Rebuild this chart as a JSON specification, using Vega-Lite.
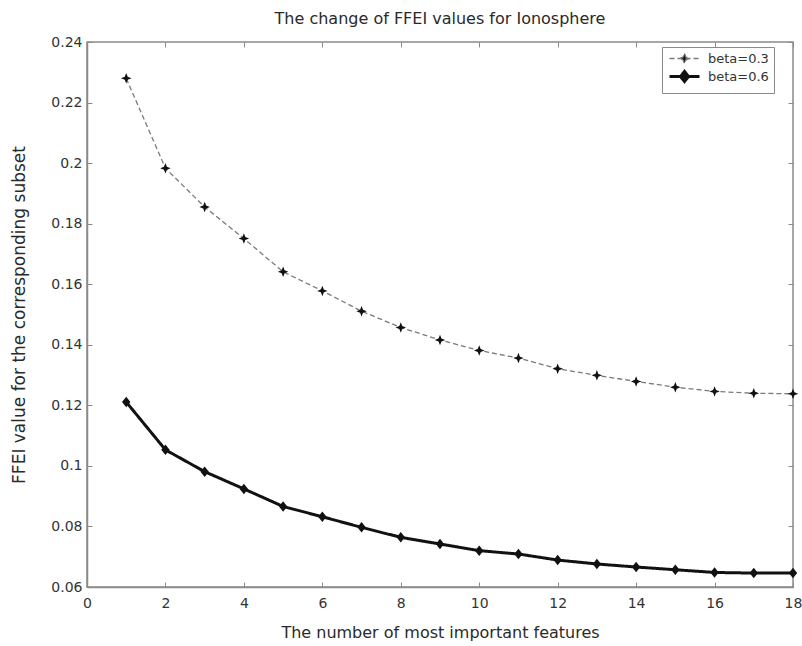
{
  "$schema": "https://vega.github.io/schema/vega-lite/v6.json",
  "width": 706,
  "height": 545,
  "autosize": {"type": "none"},
  "padding": {"left": 87, "top": 42, "right": 9, "bottom": 59},
  "background": "white",
  "title": {"text": "The change of FFEI values for Ionosphere", "font": "DejaVu Sans", "fontSize": 16, "fontWeight": "normal", "color": "#2a2a2a", "offset": 8, "anchor": "middle"},
  "config": {
    "view": {"stroke": "#8a8a8a", "strokeWidth": 1.5},
    "axis": {"domainColor": "#8a8a8a", "domainWidth": 1.5, "tickColor": "#8a8a8a", "grid": false, "labelFont": "DejaVu Sans", "labelFontSize": 14, "labelColor": "#333", "titleFont": "DejaVu Sans", "titleFontSize": 16, "titleFontWeight": "normal", "titleColor": "#2a2a2a"}
  },
  "data": {"values": [
    {"n": 1, "v": 0.228, "s": "beta=0.3"},
    {"n": 2, "v": 0.1983, "s": "beta=0.3"},
    {"n": 3, "v": 0.1855, "s": "beta=0.3"},
    {"n": 4, "v": 0.1751, "s": "beta=0.3"},
    {"n": 5, "v": 0.1641, "s": "beta=0.3"},
    {"n": 6, "v": 0.1578, "s": "beta=0.3"},
    {"n": 7, "v": 0.1511, "s": "beta=0.3"},
    {"n": 8, "v": 0.1457, "s": "beta=0.3"},
    {"n": 9, "v": 0.1416, "s": "beta=0.3"},
    {"n": 10, "v": 0.1381, "s": "beta=0.3"},
    {"n": 11, "v": 0.1356, "s": "beta=0.3"},
    {"n": 12, "v": 0.1321, "s": "beta=0.3"},
    {"n": 13, "v": 0.1299, "s": "beta=0.3"},
    {"n": 14, "v": 0.1279, "s": "beta=0.3"},
    {"n": 15, "v": 0.126, "s": "beta=0.3"},
    {"n": 16, "v": 0.1246, "s": "beta=0.3"},
    {"n": 17, "v": 0.124, "s": "beta=0.3"},
    {"n": 18, "v": 0.1238, "s": "beta=0.3"},
    {"n": 1, "v": 0.1211, "s": "beta=0.6"},
    {"n": 2, "v": 0.1053, "s": "beta=0.6"},
    {"n": 3, "v": 0.0981, "s": "beta=0.6"},
    {"n": 4, "v": 0.0924, "s": "beta=0.6"},
    {"n": 5, "v": 0.0866, "s": "beta=0.6"},
    {"n": 6, "v": 0.0832, "s": "beta=0.6"},
    {"n": 7, "v": 0.0797, "s": "beta=0.6"},
    {"n": 8, "v": 0.0764, "s": "beta=0.6"},
    {"n": 9, "v": 0.0742, "s": "beta=0.6"},
    {"n": 10, "v": 0.072, "s": "beta=0.6"},
    {"n": 11, "v": 0.0709, "s": "beta=0.6"},
    {"n": 12, "v": 0.0689, "s": "beta=0.6"},
    {"n": 13, "v": 0.0676, "s": "beta=0.6"},
    {"n": 14, "v": 0.0666, "s": "beta=0.6"},
    {"n": 15, "v": 0.0657, "s": "beta=0.6"},
    {"n": 16, "v": 0.0648, "s": "beta=0.6"},
    {"n": 17, "v": 0.0646, "s": "beta=0.6"},
    {"n": 18, "v": 0.0646, "s": "beta=0.6"}
  ]},
  "resolve": {"axis": {"x": "independent", "y": "independent"}},
  "layer": [
    {
      "mark": {"type": "line"},
      "encoding": {
        "x": {"field": "n", "type": "quantitative", "scale": {"domain": [0, 18], "nice": false, "zero": false},
          "axis": {"orient": "bottom", "title": "The  number of most important features", "values": [0,2,4,6,8,10,12,14,16,18], "tickSize": -5, "labelPadding": 14, "titlePadding": 14, "labelFlush": false}},
        "y": {"field": "v", "type": "quantitative", "scale": {"domain": [0.06, 0.24], "nice": false, "zero": false},
          "axis": {"orient": "left", "title": "FFEI value for the corresponding subset", "titleFontSize": 17, "values": [0.06,0.08,0.1,0.12,0.14,0.16,0.18,0.2,0.22,0.24], "tickSize": -5, "labelPadding": 10, "titlePadding": 22, "labelExpr": "datum.value == 0.1 ? '0.1' : (datum.value == 0.2 ? '0.2' : format(datum.value, '.2f'))"}},
        "color": {"field": "s", "type": "nominal", "scale": {"domain": ["beta=0.3", "beta=0.6"], "range": ["#7a7a7a", "#111111"]},
          "legend": {"title": null, "orient": "none", "legendX": 575, "legendY": 5, "padding": 5, "strokeColor": "#8a8a8a", "fillColor": "white", "labelFont": "DejaVu Sans", "labelFontSize": 13, "labelColor": "#333", "symbolSize": 100, "symbolOffset": 11, "labelOffset": 17, "rowPadding": -2}},
        "strokeWidth": {"field": "s", "type": "nominal", "scale": {"domain": ["beta=0.3", "beta=0.6"], "range": [1.3, 3]}},
        "strokeDash": {"field": "s", "type": "nominal", "scale": {"domain": ["beta=0.3", "beta=0.6"], "range": [[5, 3], [1, 0]]}}
      }
    },
    {
      "mark": {"type": "point", "filled": true, "color": "#111", "opacity": 1},
      "encoding": {
        "x": {"field": "n", "type": "quantitative", "axis": {"orient": "top", "labels": false, "title": null, "values": [0,2,4,6,8,10,12,14,16,18], "tickSize": -5, "domain": false}},
        "y": {"field": "v", "type": "quantitative", "axis": {"orient": "right", "labels": false, "title": null, "values": [0.06,0.08,0.1,0.12,0.14,0.16,0.18,0.2,0.22,0.24], "tickSize": -5, "domain": false}},
        "size": {"value": 110},
        "shape": {"field": "s", "type": "nominal", "scale": {"domain": ["beta=0.3", "beta=0.6"], "range": ["M-3,0H3M0,-1L0.28,-0.28L1,0L0.28,0.28L0,1L-0.28,0.28L-1,0L-0.28,-0.28Z", "M-3,0H3M0,-1L0.8,0L0,1L-0.8,0Z"]}}
      }
    }
  ]
}
